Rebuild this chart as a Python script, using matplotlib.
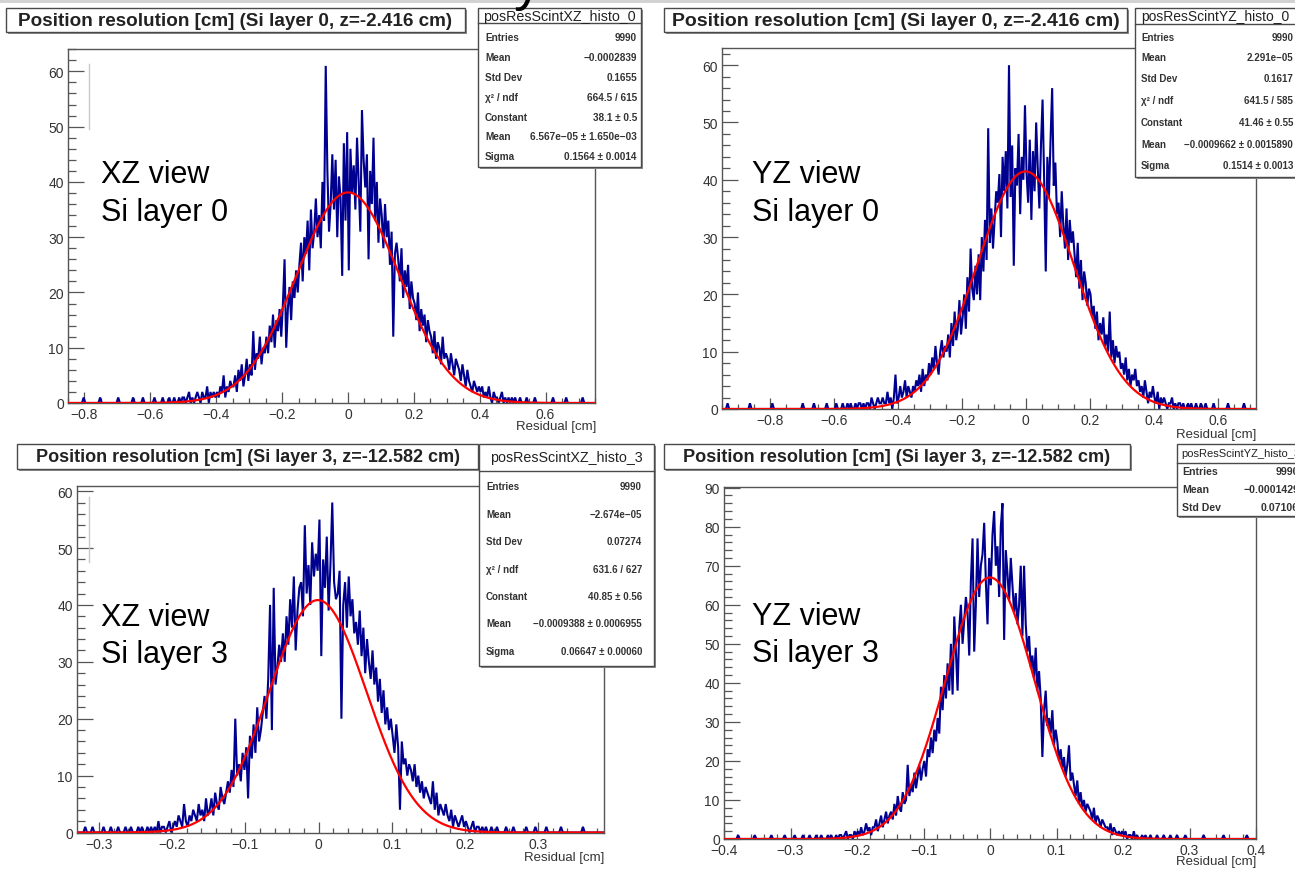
import numpy as np
import matplotlib
matplotlib.use("Agg")
import matplotlib.pyplot as plt
from matplotlib.patches import Rectangle
from matplotlib.lines import Line2D
from matplotlib.ticker import MultipleLocator, FuncFormatter

plt.rcParams['font.family'] = ['Liberation Sans', 'DejaVu Sans']

# ---------------------------------------------------------------- data
# Residual histograms: counts per bin, starting at *_core_start with
# *_bin_width, plus isolated single entries far out in the tails.

xz0_bin_width = 0.005
xz0_core_start = -0.60
xz0_counts = [
    0, 0, 1, 0, 0, 0, 0, 1, 0, 0,
    0, 1, 0, 0, 1, 0, 0, 1, 0, 1,
    1, 0, 1, 2, 0, 1, 0, 1, 2, 1,
    0, 2, 1, 1, 3, 0, 2, 1, 2, 1,
    2, 1, 3, 2, 5, 1, 3, 2, 4, 3,
    3, 5, 2, 6, 4, 7, 3, 5, 8, 4,
    7, 5, 13, 6, 9, 8, 12, 7, 10, 9,
    12, 9, 14, 11, 16, 10, 15, 13, 17, 12,
    18, 26, 10, 17, 21, 15, 22, 19, 24, 20,
    25, 29, 22, 30, 27, 33, 24, 35, 28, 31,
    37, 30, 34, 28, 40, 33, 61, 42, 31, 36,
    45, 35, 44, 30, 41, 37, 23, 47, 33, 49,
    24, 46, 38, 43, 35, 48, 40, 31, 53, 44,
    39, 45, 26, 42, 36, 48, 33, 40, 29, 37,
    34, 28, 36, 30, 33, 25, 31, 12, 27, 29,
    26, 22, 28, 19, 24, 21, 25, 17, 22, 19,
    18, 15, 20, 13, 17, 14, 16, 11, 15, 13,
    12, 9, 13, 8, 11, 10, 7, 12, 8, 9,
    8, 6, 9, 7, 5, 8, 7, 6, 4, 7,
    5, 3, 6, 4, 3, 2, 4, 3, 2, 3,
    2, 3, 1, 2, 1, 3, 1, 0, 2, 1,
    1, 0, 1, 2, 0, 1, 0, 1, 0, 1,
    0, 1, 0, 0, 1, 0, 0, 0, 1, 0,
    0, 0, 0, 1, 0, 0, 0, 0, 0, 0,
]
xz0_tail_hits = [-0.80, -0.75, -0.70, -0.65, -0.62, 0.62, 0.66, 0.71]
xz0_fit = (38.1, 6.567e-05, 0.1564)  # constant, mean, sigma

yz0_bin_width = 0.005
yz0_core_start = -0.60
yz0_counts = [
    0, 1, 0, 0, 0, 1, 0, 0, 1, 0,
    1, 0, 0, 1, 0, 1, 1, 0, 1, 0,
    1, 1, 0, 2, 1, 0, 1, 2, 1, 1,
    2, 1, 1, 3, 1, 2, 0, 2, 6, 1,
    2, 4, 2, 3, 5, 2, 4, 3, 2, 4,
    3, 5, 4, 6, 3, 7, 4, 6, 5, 8,
    6, 9, 7, 11, 8, 6, 10, 12, 9, 11,
    10, 13, 9, 15, 11, 17, 12, 14, 19, 13,
    16, 20, 14, 23, 17, 28, 21, 19, 25, 20,
    27, 19, 30, 24, 33, 26, 49, 29, 35, 28,
    33, 38, 36, 41, 30, 44, 38, 45, 35, 60,
    37, 46, 25, 42, 39, 48, 34, 44, 40, 53,
    41, 36, 47, 33, 45, 38, 50, 42, 35, 46,
    54, 40, 24, 44, 37, 47, 56, 39, 43, 34,
    36, 30, 38, 32, 28, 35, 26, 33, 29, 31,
    27, 23, 29, 21, 26, 19, 24, 22, 18, 21,
    20, 16, 18, 14, 17, 12, 15, 13, 16, 11,
    13, 10, 17, 9, 12, 8, 11, 9, 10, 7,
    8, 6, 9, 5, 7, 4, 6, 5, 7, 4,
    5, 3, 4, 2, 5, 3, 1, 3, 2, 4,
    2, 1, 3, 0, 2, 1, 2, 1, 0, 1,
    1, 2, 0, 1, 0, 1, 1, 0, 1, 0,
    0, 1, 0, 1, 0, 0, 1, 0, 0, 1,
    0, 0, 1, 0, 0, 0, 0, 1, 0, 0,
]
yz0_tail_hits = [-0.93, -0.86, -0.79, -0.70, -0.66, -0.62, 0.63, 0.68]
yz0_fit = (41.46, -0.0009662, 0.1514)

xz3_bin_width = 0.0025
xz3_core_start = -0.30
xz3_counts = [
    0, 0, 1, 0, 0, 0, 1, 0, 0, 0,
    1, 0, 0, 0, 1, 0, 0, 1, 0, 0,
    0, 1, 0, 1, 0, 0, 1, 0, 1, 0,
    1, 0, 2, 0, 1, 1, 0, 1, 2, 0,
    1, 2, 1, 3, 2, 1, 5, 2, 1, 3,
    2, 4, 3, 2, 5, 3, 4, 2, 6, 3,
    4, 6, 3, 7, 5, 4, 8, 6, 5, 7,
    9, 7, 11, 8, 20, 10, 12, 9, 14, 11,
    15, 6, 17, 13, 19, 14, 22, 16, 18, 21,
    24, 20, 27, 40, 18, 43, 26, 29, 33, 30,
    35, 30, 38, 33, 41, 36, 45, 32, 39, 43,
    44, 38, 54, 42, 47, 40, 51, 45, 49, 46,
    55, 31, 48, 43, 52, 39, 47, 58, 44, 41,
    42, 46, 20, 40, 44, 36, 45, 38, 41, 35,
    37, 33, 39, 31, 36, 28, 34, 30, 27, 32,
    26, 29, 23, 27, 21, 25, 19, 22, 18, 20,
    17, 14, 19, 15, 4, 16, 12, 13, 10, 12,
    11, 9, 12, 8, 10, 7, 9, 6, 8, 7,
    6, 5, 9, 4, 7, 3, 5, 4, 3, 5,
    3, 2, 4, 1, 3, 2, 1, 2, 3, 1,
    2, 1, 0, 1, 2, 0, 1, 1, 0, 1,
    0, 1, 0, 0, 1, 0, 0, 1, 0, 0,
    0, 0, 1, 0, 0, 0, 1, 0, 0, 0,
    0, 0, 0, 1, 0, 0, 0, 0, 1, 0,
]
xz3_tail_hits = [-0.32, -0.31, 0.31, 0.33, 0.36]
xz3_fit = (40.85, -0.0009388, 0.06647)

yz3_bin_width = 0.0025
yz3_core_start = -0.30
yz3_counts = [
    0, 0, 1, 0, 0, 0, 0, 1, 0, 0,
    0, 1, 0, 0, 0, 1, 0, 0, 1, 0,
    0, 0, 1, 0, 1, 0, 0, 1, 0, 1,
    1, 0, 1, 2, 0, 1, 1, 0, 2, 1,
    2, 1, 3, 1, 2, 4, 2, 3, 1, 3,
    3, 5, 2, 4, 6, 3, 5, 7, 4, 6,
    7, 5, 9, 6, 11, 8, 7, 12, 9, 10,
    19, 11, 14, 12, 17, 13, 16, 19, 15, 18,
    20, 16, 23, 21, 26, 22, 28, 25, 31, 27,
    39, 33, 42, 36, 45, 38, 50, 37, 57, 48,
    38, 54, 60, 50, 56, 62, 58, 47, 66, 77,
    48, 60, 77, 62, 70, 73, 81, 66, 55, 72,
    65, 78, 84, 70, 75, 62, 80, 86, 51, 74,
    68, 61, 72, 65, 58, 63, 55, 60, 70, 52,
    70, 55, 48, 52, 44, 47, 41, 49, 38, 43,
    36, 21, 33, 38, 29, 31, 27, 33, 24, 28,
    25, 20, 23, 18, 21, 16, 19, 24, 15, 17,
    14, 11, 15, 9, 12, 8, 10, 7, 9, 8,
    7, 5, 8, 4, 6, 5, 3, 5, 4, 3,
    3, 2, 4, 1, 3, 2, 1, 2, 1, 2,
    1, 2, 0, 1, 1, 0, 2, 0, 1, 0,
    0, 1, 0, 1, 0, 0, 1, 0, 0, 0,
    1, 0, 0, 0, 1, 0, 0, 0, 1, 0,
    0, 0, 1, 0, 0, 0, 0, 1, 0, 0,
]
yz3_tail_hits = [-0.38, -0.355, -0.33, -0.31, 0.32, 0.35, 0.385]
yz3_fit = (67.0, 0.0, 0.067)

titles = [
    "Position resolution [cm] (Si layer 0, z=-2.416 cm)",
    "Position resolution [cm] (Si layer 0, z=-2.416 cm)",
    "Position resolution [cm] (Si layer 3, z=-12.582 cm)",
    "Position resolution [cm] (Si layer 3, z=-12.582 cm)",
]
stat_names = ["posResScintXZ_histo_0", "posResScintYZ_histo_0",
              "posResScintXZ_histo_3", "posResScintYZ_histo_3"]
xz0_stats = [("Entries", "9990"), ("Mean", "\u22120.0002839"), ("Std Dev", "0.1655"),
             ("\u03c7\u00b2 / ndf", "664.5 / 615"), ("Constant", "38.1 \u00b1 0.5"),
             ("Mean", "6.567e\u221205 \u00b1 1.650e\u221203"), ("Sigma", "0.1564 \u00b1 0.0014")]
yz0_stats = [("Entries", "9990"), ("Mean", "2.291e\u221205"), ("Std Dev", "0.1617"),
             ("\u03c7\u00b2 / ndf", "641.5 / 585"), ("Constant", "41.46 \u00b1 0.55"),
             ("Mean", "\u22120.0009662 \u00b1 0.0015890"), ("Sigma", "0.1514 \u00b1 0.0013")]
xz3_stats = [("Entries", "9990"), ("Mean", "\u22122.674e\u221205"), ("Std Dev", "0.07274"),
             ("\u03c7\u00b2 / ndf", "631.6 / 627"), ("Constant", "40.85 \u00b1 0.56"),
             ("Mean", "\u22120.0009388 \u00b1 0.0006955"), ("Sigma", "0.06647 \u00b1 0.00060")]
yz3_stats = [("Entries", "9990"), ("Mean", "\u22120.0001429"), ("Std Dev", "0.07106")]
view_labels = [("XZ view", "Si layer 0"), ("YZ view", "Si layer 0"),
               ("XZ view", "Si layer 3"), ("YZ view", "Si layer 3")]
x_title = "Residual [cm]"

# ---------------------------------------------------------------- canvas
W, H = 1295, 870
fig = plt.figure(figsize=(W / 100, H / 100), dpi=100)
fig.patch.set_facecolor("white")

HIST_COLOR = "#000090"
FIT_COLOR = "#ff0000"
FRAME_COLOR = "#555555"
TEXT_COLOR = "#222222"


def fx(x):
    return x / W


def fy(y):
    return 1 - y / H


def fig_box(l, t, r, b, z=5, shadow=True, lw=1.0):
    if shadow:
        fig.add_artist(Rectangle((fx(l + 1.5), fy(b + 1.5)), (r - l) / W, (b - t) / H,
                                 transform=fig.transFigure, facecolor="#8c8c8c",
                                 edgecolor="none", zorder=z))
    fig.add_artist(Rectangle((fx(l), fy(b)), (r - l) / W, (b - t) / H,
                             transform=fig.transFigure, facecolor="white",
                             edgecolor="#4a4a4a", lw=lw, zorder=z + 0.1))


def tick_fmt(v, pos):
    s = "%g" % round(v, 6)
    return s.replace("-", "\u2212")


def full_histogram(xlim, start, bw, counts, tails):
    nbins = int(round((xlim[1] - xlim[0]) / bw))
    edges = xlim[0] + bw * np.arange(nbins + 1)
    vals = np.zeros(nbins)
    off = int(round((start - xlim[0]) / bw))
    vals[off:off + len(counts)] = counts
    for t in tails:
        i = int(np.floor((t - xlim[0]) / bw))
        if 0 <= i < nbins:
            vals[i] += 1
    return edges, vals


panels = [
    dict(frame=(68, 50, 595, 404), xlim=(-0.85, 0.75), xmaj=0.2, xmin=0.05,
         hist=(xz0_core_start, xz0_bin_width, xz0_counts, xz0_tail_hits), fit=xz0_fit,
         title_box=(6, 9, 465, 33), title_fs=13.6,
         stat_box=(478, 9, 641, 168), stat_div=24,
         header_xy=(559.5, 16.5), rows=xz0_stats, row_y=[38, 58, 78, 98, 118, 137, 157],
         label_x=485, value_x=637, stat_fs=7.2, header_fs=10.3,
         view_x=101, view_y=(183, 221), xlabel_xy=(596, 427)),
    dict(frame=(722, 49, 1256, 410), xlim=(-0.95, 0.72), xmaj=0.2, xmin=0.05,
         hist=(yz0_core_start, yz0_bin_width, yz0_counts, yz0_tail_hits), fit=yz0_fit,
         title_box=(664, 9, 1127, 33), title_fs=14.0,
         stat_box=(1135, 9, 1310, 178), stat_div=25,
         header_xy=(1215, 16.5), rows=yz0_stats, row_y=[38, 58, 79, 101, 123, 145, 166],
         label_x=1141, value_x=1293, stat_fs=7.0, header_fs=10.0,
         view_x=752, view_y=(183, 221), xlabel_xy=(1256, 435)),
    dict(frame=(77, 487, 604, 833.5), xlim=(-0.33, 0.39), xmaj=0.1, xmin=0.02,
         hist=(xz3_core_start, xz3_bin_width, xz3_counts, xz3_tail_hits), fit=xz3_fit,
         title_box=(17, 445, 478, 470), title_fs=13.0,
         stat_box=(479, 445, 654, 667), stat_div=472,
         header_xy=(566, 458), rows=xz3_stats, row_y=[487, 515, 542, 570, 597, 624, 652],
         label_x=486, value_x=642, stat_fs=7.0, header_fs=10.3,
         view_x=101, view_y=(626, 663), xlabel_xy=(604, 858)),
    dict(frame=(724, 487.5, 1256, 840), xlim=(-0.4, 0.4), xmaj=0.1, xmin=0.02,
         hist=(yz3_core_start, yz3_bin_width, yz3_counts, yz3_tail_hits), fit=yz3_fit,
         title_box=(664, 445, 1130, 470), title_fs=13.1,
         stat_box=(1177, 445, 1320, 517), stat_div=464,
         header_xy=(1181, 454.5), rows=yz3_stats, row_y=[472, 490, 508],
         label_x=1182, value_x=1299, stat_fs=7.6, header_fs=8.0,
         view_x=752, view_y=(625, 662), xlabel_xy=(1256, 862)),
]

for k, p in enumerate(panels):
    l, t, r, b = p["frame"]
    ax = fig.add_axes([fx(l), fy(b), (r - l) / W, (b - t) / H])
    ax.set_facecolor("white")

    # histogram contents joined bin to bin, which renders the narrow bins
    # as the dense jagged band of a finely binned residual distribution
    start, bw, counts, tails = p["hist"]
    edges, vals = full_histogram(p["xlim"], start, bw, counts, tails)
    centers = 0.5 * (edges[:-1] + edges[1:])
    ax.plot(centers, vals, color=HIST_COLOR, lw=1.5, zorder=2,
            solid_joinstyle="miter")

    const, mean, sigma = p["fit"]
    xs = np.linspace(p["xlim"][0], p["xlim"][1], 1200)
    ax.plot(xs, const * np.exp(-0.5 * ((xs - mean) / sigma) ** 2),
            color=FIT_COLOR, lw=1.6, zorder=3)

    ax.set_xlim(*p["xlim"])
    ax.set_ylim(0, 1.05 * max(vals.max(), 1))

    ax.xaxis.set_major_locator(MultipleLocator(p["xmaj"]))
    ax.xaxis.set_minor_locator(MultipleLocator(p["xmin"]))
    ax.yaxis.set_major_locator(MultipleLocator(10))
    ax.yaxis.set_minor_locator(MultipleLocator(2))
    ax.xaxis.set_major_formatter(FuncFormatter(tick_fmt))
    ax.yaxis.set_major_formatter(FuncFormatter(tick_fmt))

    ax.tick_params(axis="both", which="both", direction="in", colors=FRAME_COLOR,
                   labelcolor="#333333", labelsize=10, width=0.9,
                   top=False, right=False)
    ax.tick_params(axis="y", which="major", length=11.5, pad=3)
    ax.tick_params(axis="y", which="minor", length=5.8)
    ax.tick_params(axis="x", which="major", length=7.6, pad=3)
    ax.tick_params(axis="x", which="minor", length=3.8)
    for sp in ax.spines.values():
        sp.set_color(FRAME_COLOR)
        sp.set_linewidth(1.0)

    # axis title, right-aligned under the frame
    fig.text(fx(p["xlabel_xy"][0]), fy(p["xlabel_xy"][1]), x_title, ha="right",
             va="center", fontsize=9.5, color="#333333")

    # large view annotation
    v1, v2 = view_labels[k]
    fig.text(fx(p["view_x"]), fy(p["view_y"][0]), v1, fontsize=22, va="baseline",
             ha="left", color="black", zorder=4)
    fig.text(fx(p["view_x"]), fy(p["view_y"][1]), v2, fontsize=22, va="baseline",
             ha="left", color="black", zorder=4)

    # histogram title box
    tl, tt, tr, tb = p["title_box"]
    fig_box(tl, tt, tr, tb)
    fig.text(fx((tl + tr) / 2), fy((tt + tb) / 2 + 0.5), titles[k], ha="center",
             va="center", fontsize=p["title_fs"], fontweight="bold", color=TEXT_COLOR,
             zorder=6)

    # statistics box
    sl, st, sr, sb = p["stat_box"]
    fig_box(sl, st, sr, sb)
    fig.add_artist(Line2D([fx(sl), fx(sr)], [fy(p["stat_div"]), fy(p["stat_div"])],
                          color="#4a4a4a", lw=1.0, zorder=5.3))
    hx, hy = p["header_xy"]
    fig.text(fx(hx), fy(hy), stat_names[k], ha="left" if k == 3 else "center",
             va="center", fontsize=p["header_fs"], color=TEXT_COLOR, zorder=6)
    for (name, val), yy in zip(p["rows"], p["row_y"]):
        fig.text(fx(p["label_x"]), fy(yy), name, ha="left", va="center",
                 fontsize=p["stat_fs"], fontweight="bold", color="#333333", zorder=6)
        fig.text(fx(p["value_x"]), fy(yy), val, ha="right", va="center",
                 fontsize=p["stat_fs"], fontweight="bold", color="#333333", zorder=6)

# page furniture around the four canvases
fig.add_artist(Rectangle((0, fy(4)), 1, 4 / H, transform=fig.transFigure,
                         facecolor="#d2d2d2", edgecolor="none", zorder=7))
fig.text(fx(528), fy(-1), "y", fontsize=40, ha="center", va="baseline",
         color="black", zorder=8)
for x0, y0, y1 in [(89, 65, 130), (89, 498, 563)]:
    fig.add_artist(Line2D([fx(x0), fx(x0)], [fy(y0), fy(y1)], color="#c8c8c8",
                          lw=1.0, zorder=4))

fig.savefig("out.png", dpi=100, facecolor="white")
